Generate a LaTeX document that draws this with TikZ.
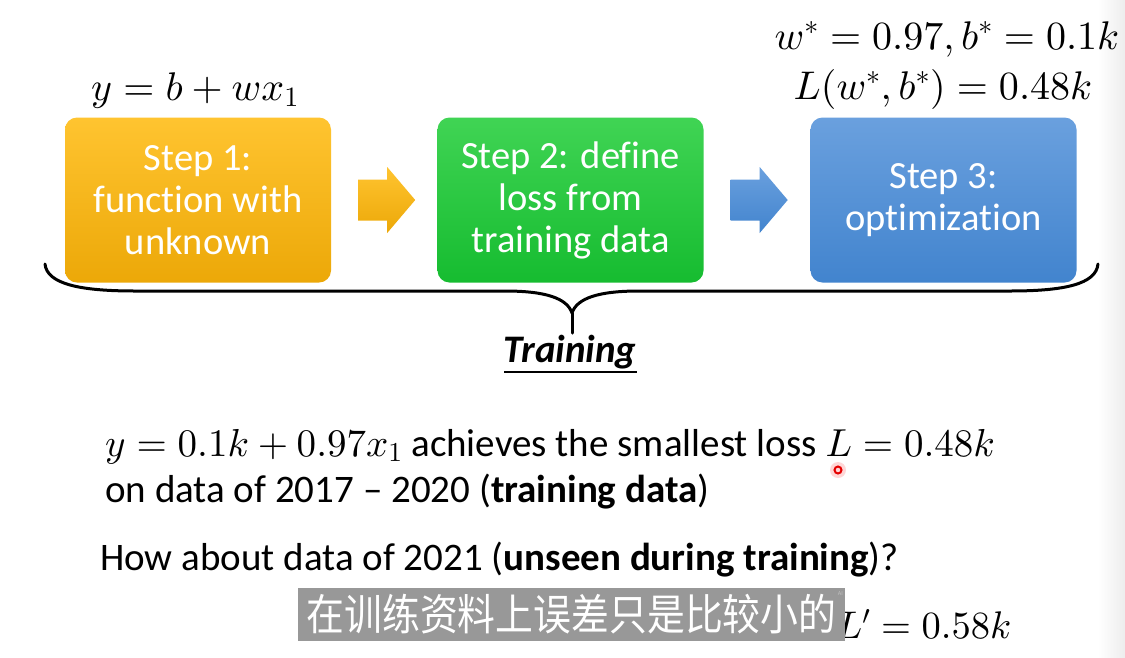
\documentclass[tikz,border=0pt]{standalone}
\usepackage[no-math]{fontspec}
\setmainfont{Carlito}[Ligatures={TeX,NoCommon}]
\newfontfamily\cjk{Noto Sans CJK SC}
\usetikzlibrary{calc,shadings}

% scalable Computer Modern shapes for large formulas
\DeclareFontShape{OML}{cmm}{m}{it}{<->cmmi10}{}
\DeclareFontShape{OMS}{cmsy}{m}{n}{<->cmsy10}{}
\DeclareFontShape{OT1}{cmr}{m}{n}{<->cmr10}{}
\DeclareFontShape{OMX}{cmex}{m}{n}{<->cmex10}{}

\definecolor{orangetop}{RGB}{255,196,48}
\definecolor{orangebot}{RGB}{236,168,8}
\definecolor{greentop}{RGB}{64,212,84}
\definecolor{greenbot}{RGB}{22,188,48}
\definecolor{bluetop}{RGB}{106,160,222}
\definecolor{bluebot}{RGB}{66,132,206}
\definecolor{subgrey}{RGB}{152,152,152}

\tikzset{
  stepbox/.style={rounded corners=12pt, minimum width=266pt, minimum height=165pt,
    inner sep=0pt, text=white, align=center,
    font=\fontsize{38.5}{42}\selectfont},
  body/.style={inner sep=0pt, font=\fontsize{39}{47}\selectfont},
  eq/.style={inner sep=0pt, font=\fontsize{40}{48}\selectfont},
  brace/.style={line width=3pt, line cap=round, line join=round},
}

\begin{document}
\begin{tikzpicture}[x=1pt,y=-1pt]
  \useasboundingbox (0,0) rectangle (1125,657);
  \fill[white] (0,0) rectangle (1125,657);
  % faint shade at the right margin
  \shade[left color=white, right color=black!7] (1098,0) rectangle (1125,657);

  % the three steps
  \node[stepbox, top color=orangetop, bottom color=orangebot] (s1) at (198,200)
    {Step 1:\\function with\\unknown};
  \node[stepbox, top color=greentop, bottom color=greenbot] (s2) at (570.5,200)
    {Step 2: define\\loss from\\training data};
  \node[stepbox, top color=bluetop, bottom color=bluebot] (s3) at (943.5,200)
    {Step 3:\\optimization};

  % block arrows between the steps
  \foreach \a/\b/\t/\u in {s1/s2/orangetop/orangebot, s2/s3/bluetop/bluebot}{
    \path ($(\a.east)+(27,0)$) coordinate (p0);
    \shade[top color=\t, bottom color=\u]
      ($(p0)+(0,-20.5)$) -- ($(p0)+(29,-20.5)$) -- ($(p0)+(29,-33)$)
      -- ($(p0)+(57,0)$) -- ($(p0)+(29,33)$) -- ($(p0)+(29,20.5)$)
      -- ($(p0)+(0,20.5)$) -- cycle;
  }

  % formulas above the steps
  \node[eq, anchor=base] (f1) at (195,100) {$y=b+wx_1$};
  \node[eq, anchor=base] (f2) at (947,49) {$w^*=0.97,b^*=0.1k$};
  \node[eq, anchor=base] (f3) at (943,99) {$L(w^*,b^*)=0.48k$};

  % brace under the steps
  \coordinate (bl) at (45,264);
  \coordinate (br) at (1098,264);
  \coordinate (bt) at (572,313);
  \draw[brace] (bl) .. controls (47,284) and (80,291) .. (135,291)
    -- (505,291) .. controls (545,291) and (567,298) .. (bt)
    .. controls (577,298) and (599,291) .. (639,291)
    -- (1010,291) .. controls (1065,291) and (1096,284) .. (br);
  \draw[brace] (bt) -- (572,333) coordinate (bs);

  \node[body, anchor=base, font=\fontsize{39}{47}\selectfont\bfseries\itshape] (tr) at (570,362) {Training};
  \draw[line width=2pt] (504,372) -- (637,372);

  % result text
  \node[body, anchor=base west] (l1) at (105,456)
    {$y=0.1k+0.97x_1$ achieves the smallest loss $L=0.48k$};
  \node[body, anchor=base west] (l2) at (105,502)
    {on data of 2017 – 2020 (\textbf{training data})};
  \node[body, anchor=base west] (l3) at (100,570)
    {How about data of 2021 (\textbf{unseen during training})?};
  \node[eq, anchor=base west, font=\fontsize{38.5}{46}\selectfont] (l4) at (836,638) {$L'=0.58k$};

  % pointer mark
  \fill[red!35, opacity=0.45] (838,470) circle (8);
  \draw[red!90!black, line width=2pt] (838,470) circle (3.5);

  % caption strip
  \fill[subgrey] (298,588) rectangle (845,641);
  \node[inner sep=0pt, text=white, font=\cjk\fontsize{43}{50}\selectfont] (cap) at (571.5,614.5)
    {\scalebox{0.88}[1]{在训练资料上误差只是比较小的}};
  \node[inner sep=0pt, text=black!25, font=\fontsize{6}{7}\selectfont, anchor=north east]
    (ai) at (843,591) {AI};
\end{tikzpicture}
\end{document}
